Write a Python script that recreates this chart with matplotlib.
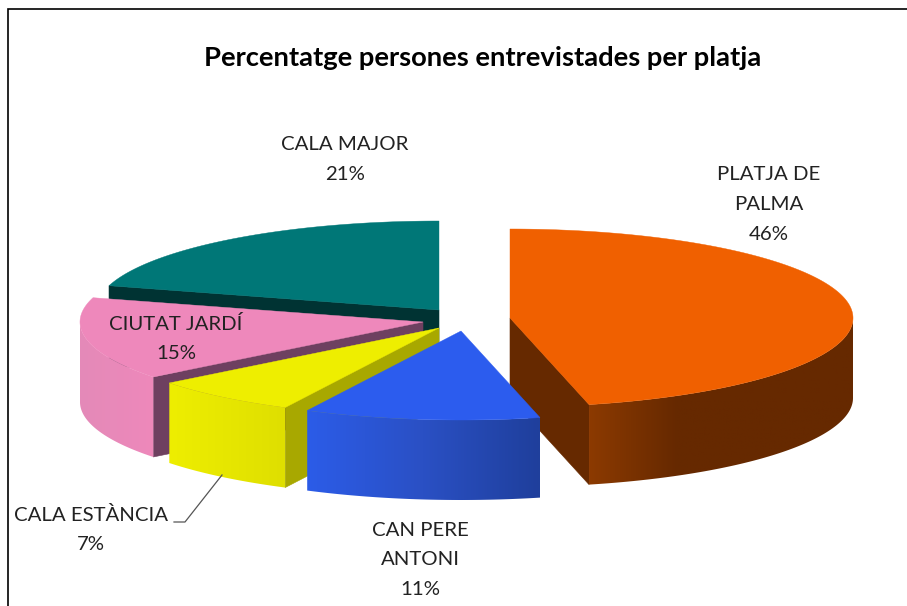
import numpy as np
import matplotlib
matplotlib.use('Agg')
import matplotlib.pyplot as plt
from matplotlib.colors import LinearSegmentedColormap
from matplotlib.patches import Polygon

plt.rcParams['font.family'] = ['Lato', 'DejaVu Sans']

title = 'Percentatge persones entrevistades per platja'
names = [['PLATJA DE', 'PALMA'], ['CAN PERE', 'ANTONI'], ['CALA ESTÀNCIA'], ['CIUTAT JARDÍ'], ['CALA MAJOR']]
shares = [46.3, 11.1, 7.0, 15.0, 20.6]

top_colors = ['#f06000', '#2c5cee', '#eeee00', '#ee88bb', '#007777']
cut_colors = ['#662900', '#1f3f9c', '#a8a800', '#6e4060', '#003333']
wall_colors = [['#8c3a00', '#662900', '#662900', '#662900'],
               ['#2c5ce8', '#2a50c4', '#1f3f9c'],
               ['#eeee00', '#dfdf00'],
               ['#e48ab8', '#ee88bb'],
               ['#003333', '#003333']]

# slice apex positions in pixels, and the size of the pie
centres = [(510, 318), (461, 331), (439, 328), (423, 322), (439, 310)]
# x centre and y of the first line of each label
label_pos = [(769, 175), (420, 530), (91, 515), (176, 324), (345, 145)]
line_step = 29.7
draw_order = [0, 4, 3, 2, 1]
rx, ry, depth = 343, 89, 80


def rim(cx, cy, t):
    """Point on the ellipse, t in degrees clockwise from the top."""
    t = np.radians(t)
    return np.column_stack([cx + rx * np.sin(t), cy - ry * np.cos(t)])


def draw_slice(ax, idx, start, end, z):
    cx, cy = centres[idx]

    # flat faces of the cut, only the ones looking at the viewer
    for t in (start, end):
        sin_t = np.sin(np.radians(t))
        if (t == start and sin_t < -0.01) or (t == end and sin_t > 0.01):
            p = rim(cx, cy, np.array([t]))[0]
            ax.fill([cx, p[0], p[0], cx], [cy, p[1], p[1] + depth, cy + depth],
                    color=cut_colors[idx], lw=0.4, zorder=z)

    # outer wall, only the front half of the ellipse, gradient clipped to its outline
    lo, hi = max(start, 90), min(end, 270)
    if lo < hi:
        pts = rim(cx, cy, np.linspace(lo, hi, 200))
        outline = np.vstack([pts, pts[::-1] + [0, depth]])
        cmap = LinearSegmentedColormap.from_list('wall', wall_colors[idx])
        xmin, xmax = pts[:, 0].min(), pts[:, 0].max()
        ymin, ymax = outline[:, 1].min(), outline[:, 1].max()
        im = ax.imshow(np.linspace(0, 1, 256)[None, :], cmap=cmap, aspect='auto',
                       extent=(xmin, xmax, ymax, ymin), zorder=z + 0.1)
        im.set_clip_path(Polygon(outline, transform=ax.transData))

    # top face
    arc = rim(cx, cy, np.linspace(start, end, 300))
    ax.fill(np.r_[cx, arc[:, 0]], np.r_[cy, arc[:, 1]], color=top_colors[idx], lw=0.3, zorder=z + 0.2)


fig = plt.figure(figsize=(9.07, 6.06), dpi=100)
ax = fig.add_axes([0, 0, 1, 1])

bounds = np.r_[0, np.cumsum(shares)] / np.sum(shares) * 360
for z, i in enumerate(draw_order):
    draw_slice(ax, i, bounds[i], bounds[i + 1], z + 1)

ax.set_xlim(0, 907)
ax.set_ylim(606, 0)
ax.axis('off')

# chart frame, only left and top are in the picture
ax.plot([7.5, 7.5, 907], [606, 9, 9], color='black', lw=1.2, solid_joinstyle='miter', zorder=10)

# leader line of the small slice
ax.plot([222, 185, 174], [475, 522, 522], color='#555555', lw=0.9, zorder=10)

ax.text(483, 58, title, ha='center', va='center', fontsize=19.7, fontweight='bold', color='black', zorder=11)
for name, share, (x, y) in zip(names, shares, label_pos):
    for n, line in enumerate(name + [f'{share:.0f}%']):
        ax.text(x, y + n * line_step, line, ha='center', va='center', fontsize=14.7,
                color='#222222', zorder=11)

fig.savefig('out.png', dpi=100)
